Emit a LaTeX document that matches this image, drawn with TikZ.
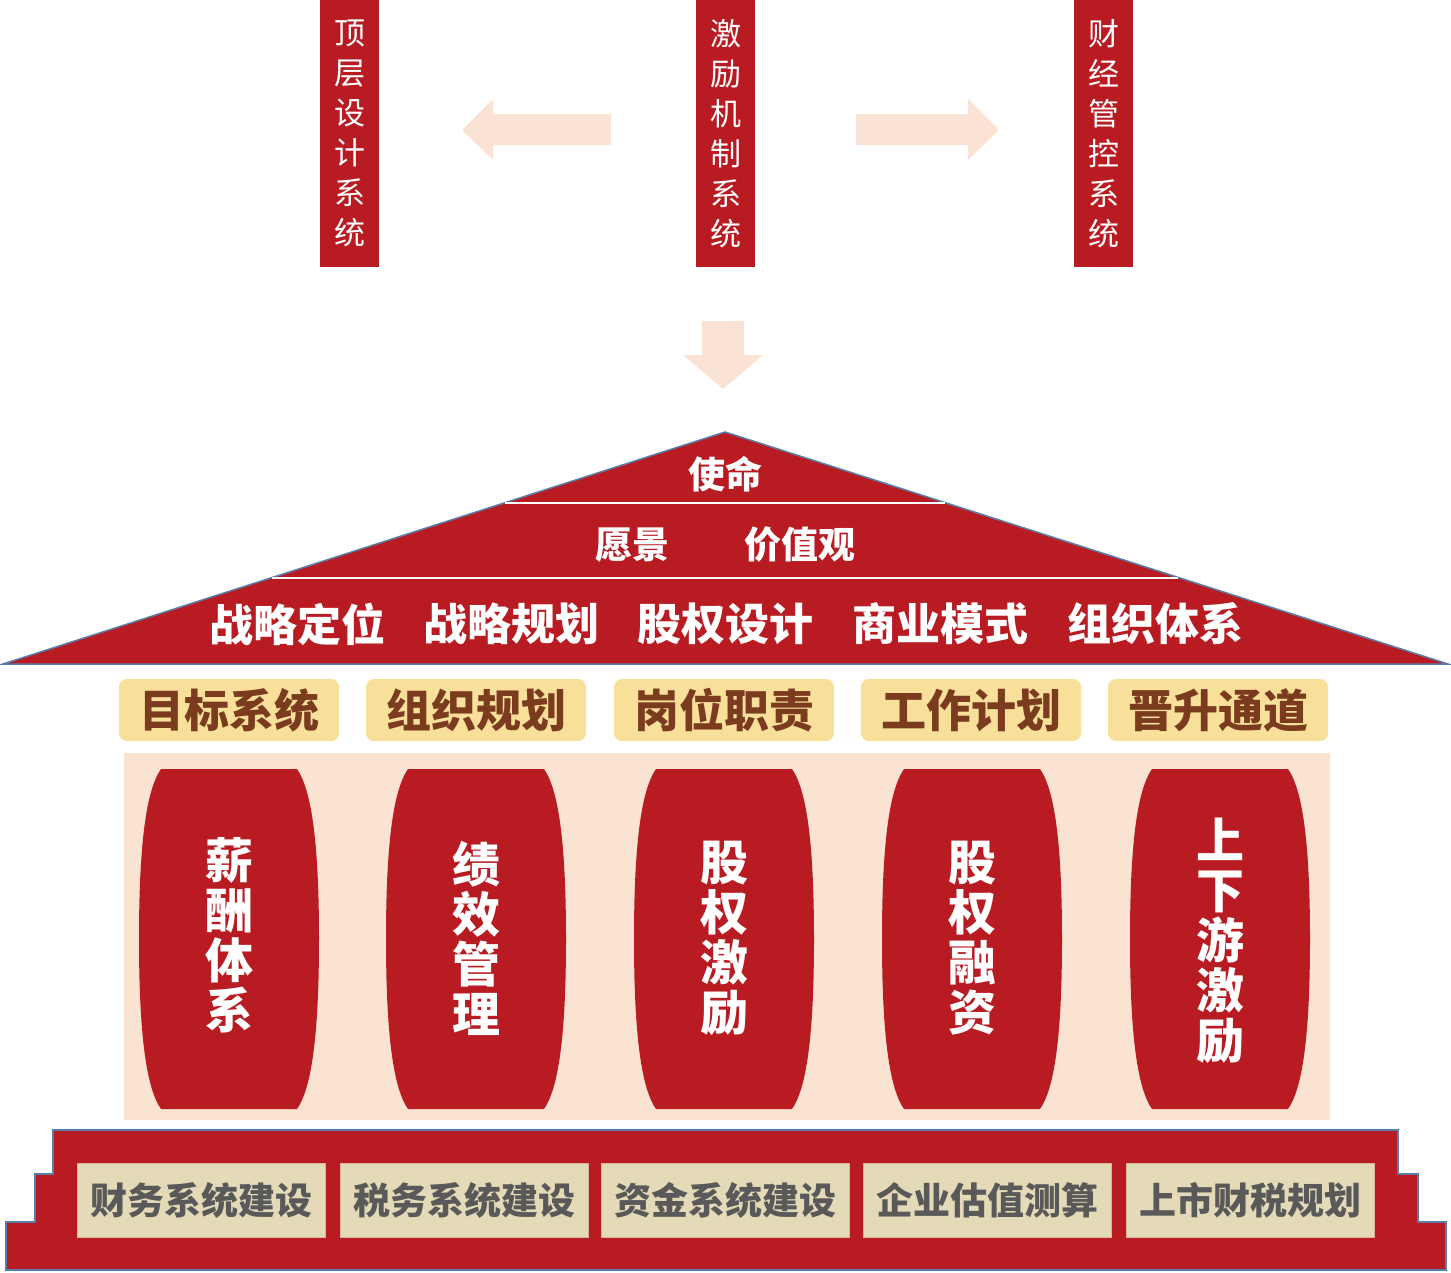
\documentclass[tikz,border=0pt]{standalone}
\usepackage{fontspec}
\setmainfont{Noto Sans CJK SC}
\usetikzlibrary{positioning}

\definecolor{rojo}{HTML}{B81C22}
\definecolor{melocoton}{HTML}{FAE3D5}
\definecolor{fondo}{HTML}{FBE3D2}
\definecolor{dorado}{HTML}{F8E09A}
\definecolor{marron}{HTML}{7A3B1F}
\definecolor{beige}{HTML}{E4DAB8}
\definecolor{gris}{HTML}{595959}
\definecolor{azul}{HTML}{5A7DA8}

\begin{document}
\begin{tikzpicture}[x=1pt, y=-1pt,
  caja/.style={fill=rojo, text=white, minimum width=59pt, minimum height=267pt, inner sep=0pt, align=center, font=\fontsize{31}{40}\selectfont},
  techo/.style={text=white, inner sep=0pt, font=\bfseries\fontsize{37}{37}\selectfont},
  techob/.style={text=white, inner sep=0pt, font=\bfseries\fontsize{44}{44}\selectfont},
  amarilla/.style={fill=dorado, text=marron, rounded corners=8pt, minimum width=220pt, minimum height=62pt, inner sep=0pt, font=\bfseries\fontsize{45}{45}\selectfont},
  columna/.style={text=white, inner sep=0pt, align=center, font=\bfseries\fontsize{48}{50}\selectfont},
  base/.style={fill=beige, draw=beige!80!rojo, line width=0.8pt, text=gris, minimum width=248pt, minimum height=74pt, inner sep=0pt, font=\bfseries\fontsize{37}{37}\selectfont},
  flecha/.style={fill=melocoton},
  pilar/.pic={\fill[rojo] (-68,-170) -- (68,-170) .. controls (82,-150) and (90,-100) .. (90,0) .. controls (90,100) and (82,150) .. (68,170) -- (-68,170) .. controls (-82,150) and (-90,100) .. (-90,0) .. controls (-90,-100) and (-82,-150) .. (-68,-170) -- cycle;}
]
\useasboundingbox (0,0) rectangle (1451,1272);
\fill[white] (0,0) rectangle (1451,1272);

% Sistemas
\node[caja] (top) at (349.5,133.5) {顶\\层\\设\\计\\系\\统};
\node[caja] (inc) at (725.5,133.5) {激\\励\\机\\制\\系\\统};
\node[caja] (fin) at (1103.5,133.5) {财\\经\\管\\控\\系\\统};

% Flechas
\fill[flecha] (462,130) -- (493,99) -- (493,114) -- (611,114) -- (611,145) -- (493,145) -- (493,160) -- cycle;
\fill[flecha] (999,130) -- (968,99) -- (968,114) -- (856,114) -- (856,145) -- (968,145) -- (968,160) -- cycle;
\fill[flecha] (723,389) -- (683,355) -- (702,355) -- (702,321) -- (744,321) -- (744,355) -- (763,355) -- cycle;

% Techo
\filldraw[fill=rojo, draw=azul, line width=1.5pt] (725,432) -- (1448,664) -- (3,664) -- cycle;
\draw[white, line width=2pt] (505,503) -- (945,503);
\draw[white, line width=2pt] (272,578) -- (1178,578);
\node[techo] (mis) at (725,474) {使命};
\node[techo] (vis) at (632,545) {愿景};
\node[techo] (val) at (800,545) {价值观};
\node[techob] (t1) at (297,624) {战略定位};
\node[techob] (t2) at (511,624) {战略规划};
\node[techob] (t3) at (725,624) {股权设计};
\node[techob] (t4) at (940,624) {商业模式};
\node[techob] (t5) at (1155,624) {组织体系};

% Franja amarilla
\node[amarilla] (a1) at (229,710) {目标系统};
\node[amarilla] (a2) at (476,710) {组织规划};
\node[amarilla] (a3) at (724,710) {岗位职责};
\node[amarilla] (a4) at (971,710) {工作计划};
\node[amarilla] (a5) at (1218,710) {晋升通道};

% Columnas
\fill[fondo] (124,753) rectangle (1330,1120);
\pic at (229,939) {pilar};
\pic at (476,939) {pilar};
\pic at (724,939) {pilar};
\pic at (972,939) {pilar};
\pic at (1220,939) {pilar};
\node[columna] (c1) at (229,935) {薪\\酬\\体\\系};
\node[columna] (c2) at (476,938) {绩\\效\\管\\理};
\node[columna] (c3) at (724,938) {股\\权\\激\\励};
\node[columna] (c4) at (972,938) {股\\权\\融\\资};
\node[columna] (c5) at (1220,941) {上\\下\\游\\激\\励};

% Base
\filldraw[fill=rojo, draw=azul, line width=1.5pt] (53,1130) -- (1398,1130) -- (1398,1174) -- (1418,1174) -- (1418,1222) -- (1446,1222) -- (1446,1270) -- (6,1270) -- (6,1222) -- (35,1222) -- (35,1174) -- (53,1174) -- cycle;
\node[base] (b1) at (201,1200) {财务系统建设};
\node[base] (b2) at (464,1200) {税务系统建设};
\node[base] (b3) at (725,1200) {资金系统建设};
\node[base] (b4) at (987,1200) {企业估值测算};
\node[base] (b5) at (1250,1200) {上市财税规划};
\end{tikzpicture}
\end{document}
